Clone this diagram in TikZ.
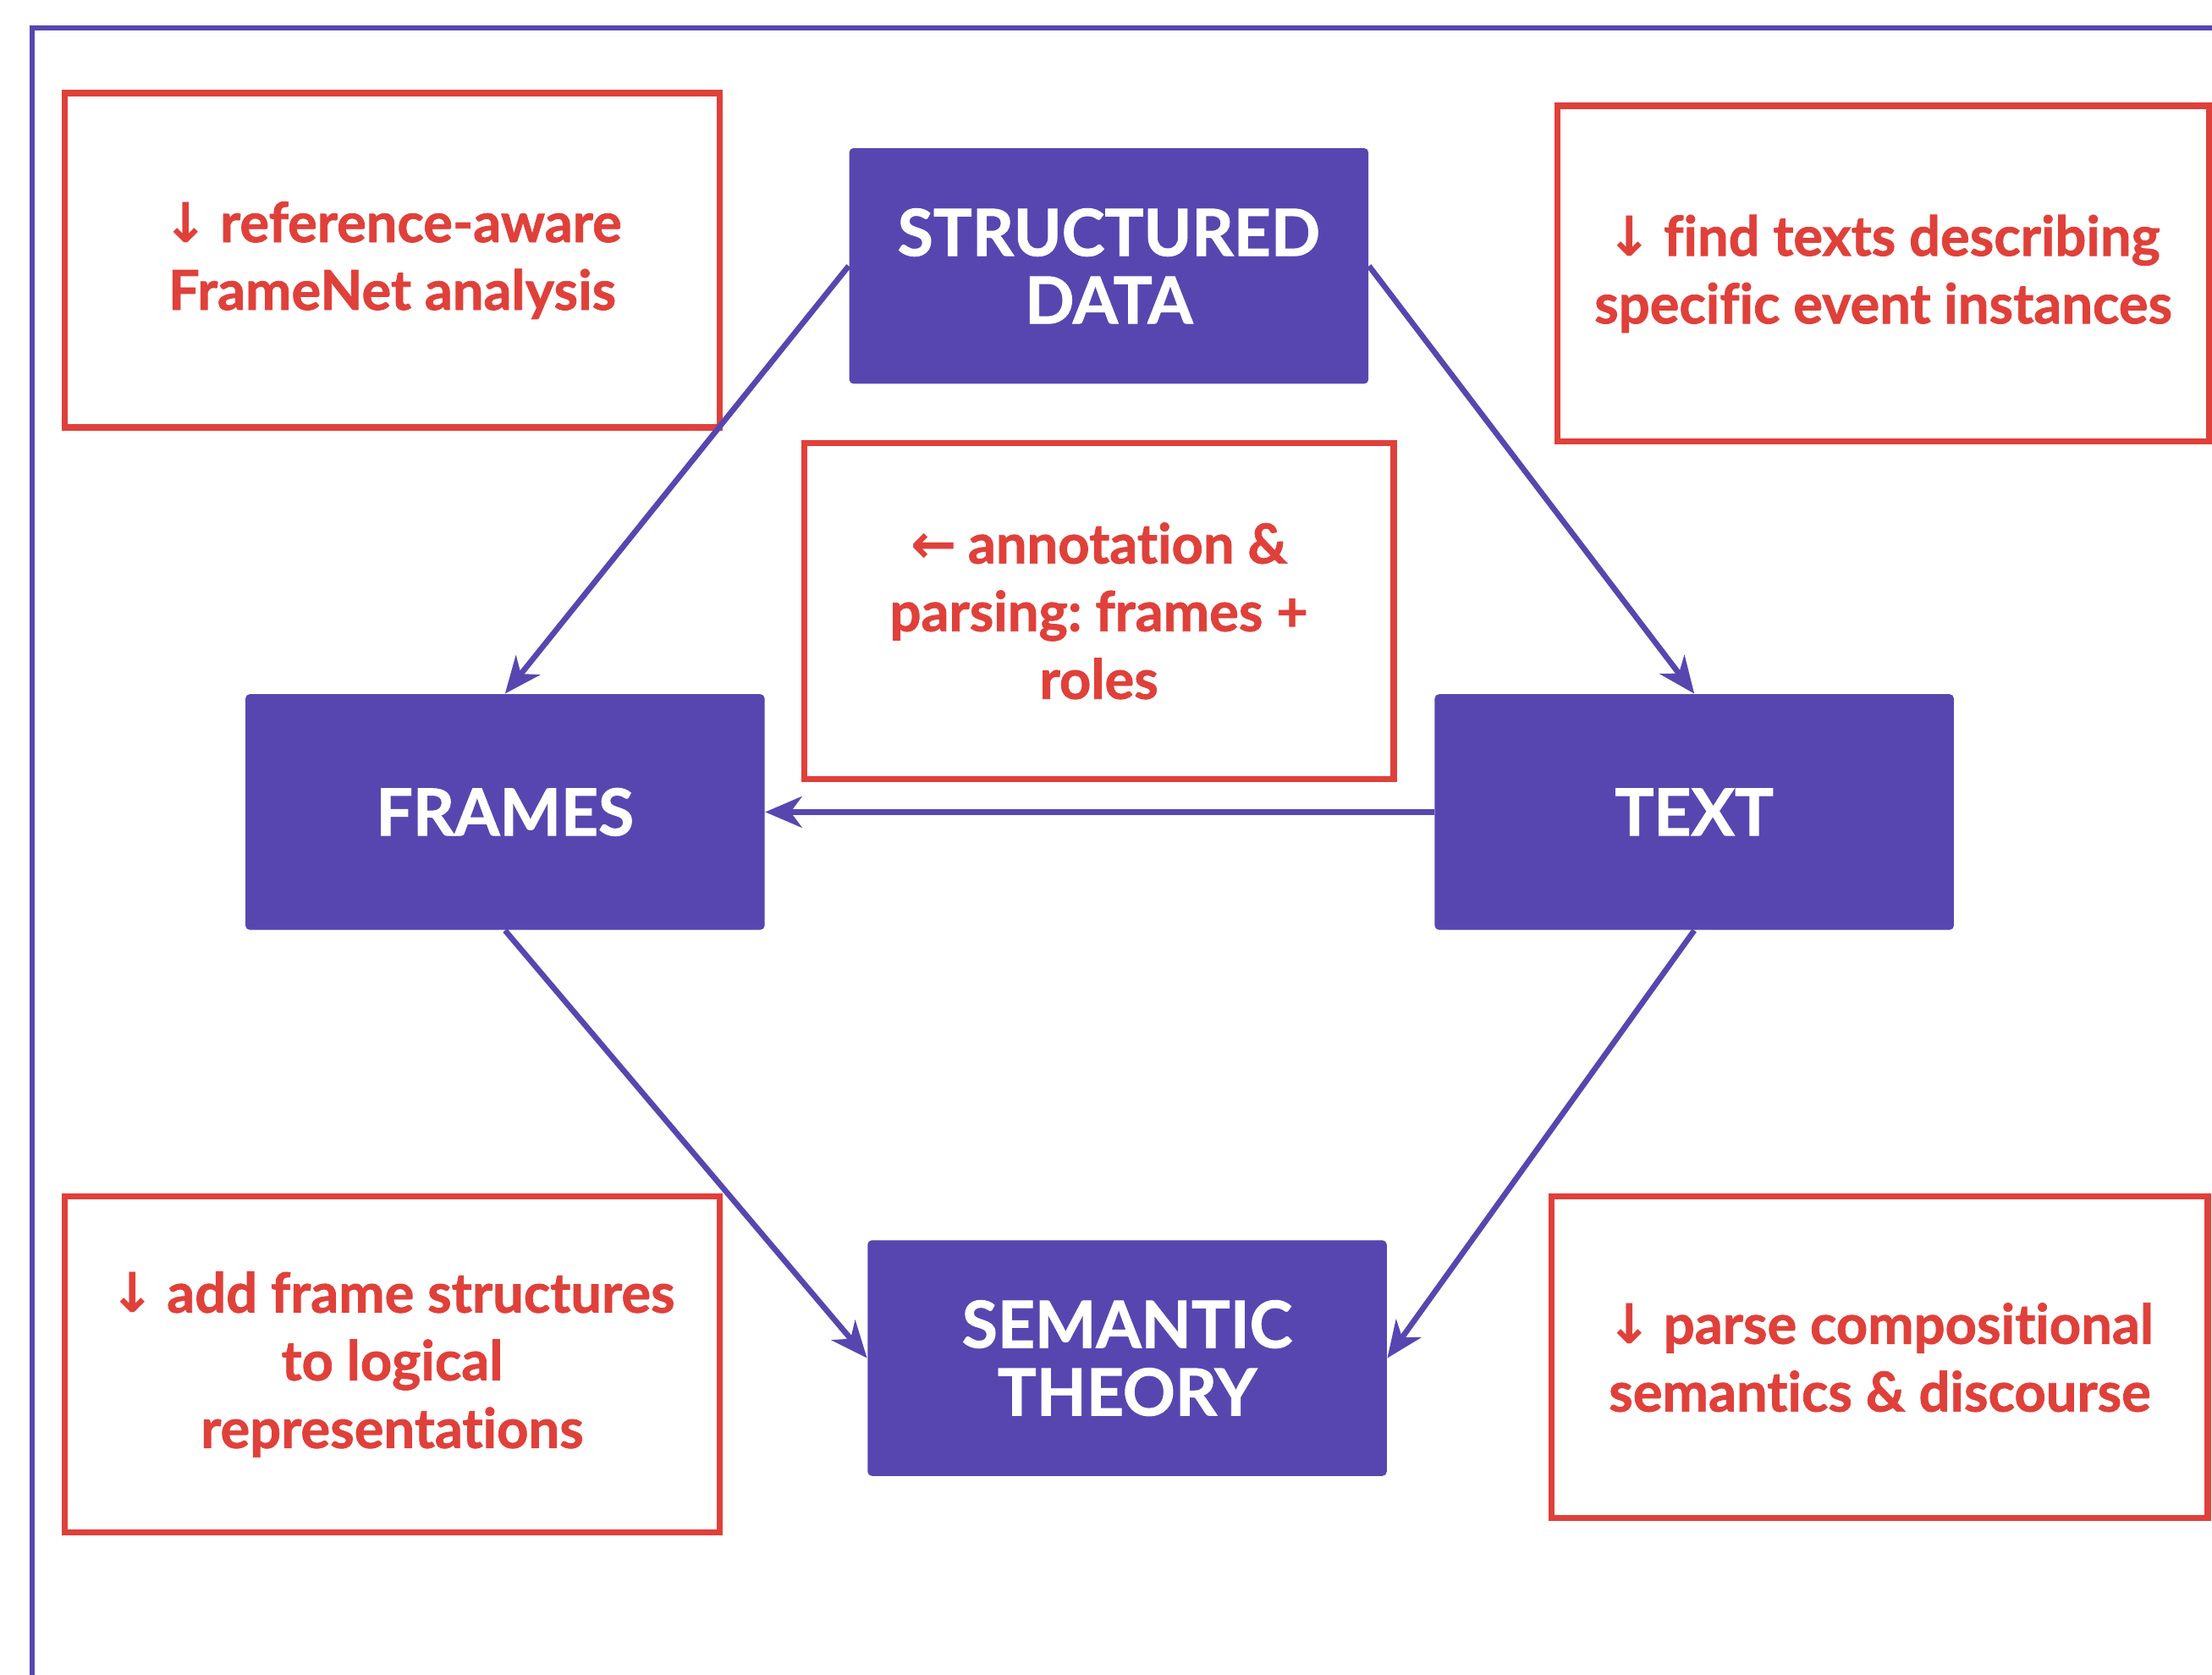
\documentclass[tikz,border=0pt]{standalone}
\usepackage{fontspec}
\setmainfont{Lato}[Ligatures={NoCommon},BoldFeatures={FakeBold=1.2}]
\newfontfamily\arrowfont{DejaVu Sans}
\usetikzlibrary{arrows.meta}
\definecolor{pur}{HTML}{5846B0}
\definecolor{myred}{HTML}{E0403A}
\newcommand{\dnar}{{\arrowfont\bfseries ↓}\hspace{4pt}}
\newcommand{\lfar}{{\arrowfont\bfseries ←}\hspace{4pt}}
\frenchspacing
\begin{document}
\begin{tikzpicture}[x=0.5pt,y=-0.5pt,
  pbox/.style={fill=pur, rounded corners=1.5pt, minimum width=184pt, minimum height=83.5pt,
    text=white, font=\bfseries\fontsize{23}{24}\selectfont, align=center, inner sep=0pt},
  rbox/.style={draw=myred, line width=2.2pt, text=myred, inner sep=0pt,
    font=\bfseries\fontsize{19.5}{24}\selectfont, align=center},
  conn/.style={draw=pur, line width=2pt, -{Stealth[length=13pt,width=11pt,inset=4pt]}},
  frame/.style={draw=pur, line width=1.8pt}
]
\useasboundingbox (0,0) rectangle (1568,1187);
% outer frame
\coordinate (fb) at (23,1200);
\coordinate (ftl) at (23,20);
\coordinate (fr) at (1580,20);
\draw[frame] (fb) -- (ftl) -- (fr);

% purple boxes
\node[pbox] (sd) at (786,188.5) {STRUCTURED\\DATA};
\node[pbox] (fr1) at (358,575.5) {FRAMES};
\node[pbox] (tx) at (1201,575.5) {TEXT};
\node[pbox] (sem) at (799,962.5) {SEMANTIC\\THEORY};

% red boxes
\node[rbox, minimum width=232pt, minimum height=118.5pt] (r1) at (278,184.5)
  {\dnar reference-aware\\FrameNet analysis};
\node[rbox, minimum width=231pt, minimum height=119pt] (r2) at (1335,194)
  {\dnar find texts describing\\specific event instances};
\node[rbox, minimum width=209pt, minimum height=119pt] (r3) at (779,433)
  {\lfar annotation \&\\parsing: frames +\\roles};
\node[rbox, minimum width=232pt, minimum height=119pt] (r4) at (278,967)
  {\dnar add frame structures\\to logical\\representations};
\node[rbox, minimum width=232.5pt, minimum height=114pt] (r5) at (1332.5,962)
  {\dnar parse compositional\\semantics \& discourse};

% connectors
\draw[conn] (sd.west) -- (fr1.north);
\draw[conn] (sd.east) -- (tx.north);
\draw[conn] (tx.west) -- (fr1.east);
\draw[conn] (fr1.south) -- (sem.west);
\draw[conn] (tx.south) -- (sem.east);
\end{tikzpicture}
\end{document}
